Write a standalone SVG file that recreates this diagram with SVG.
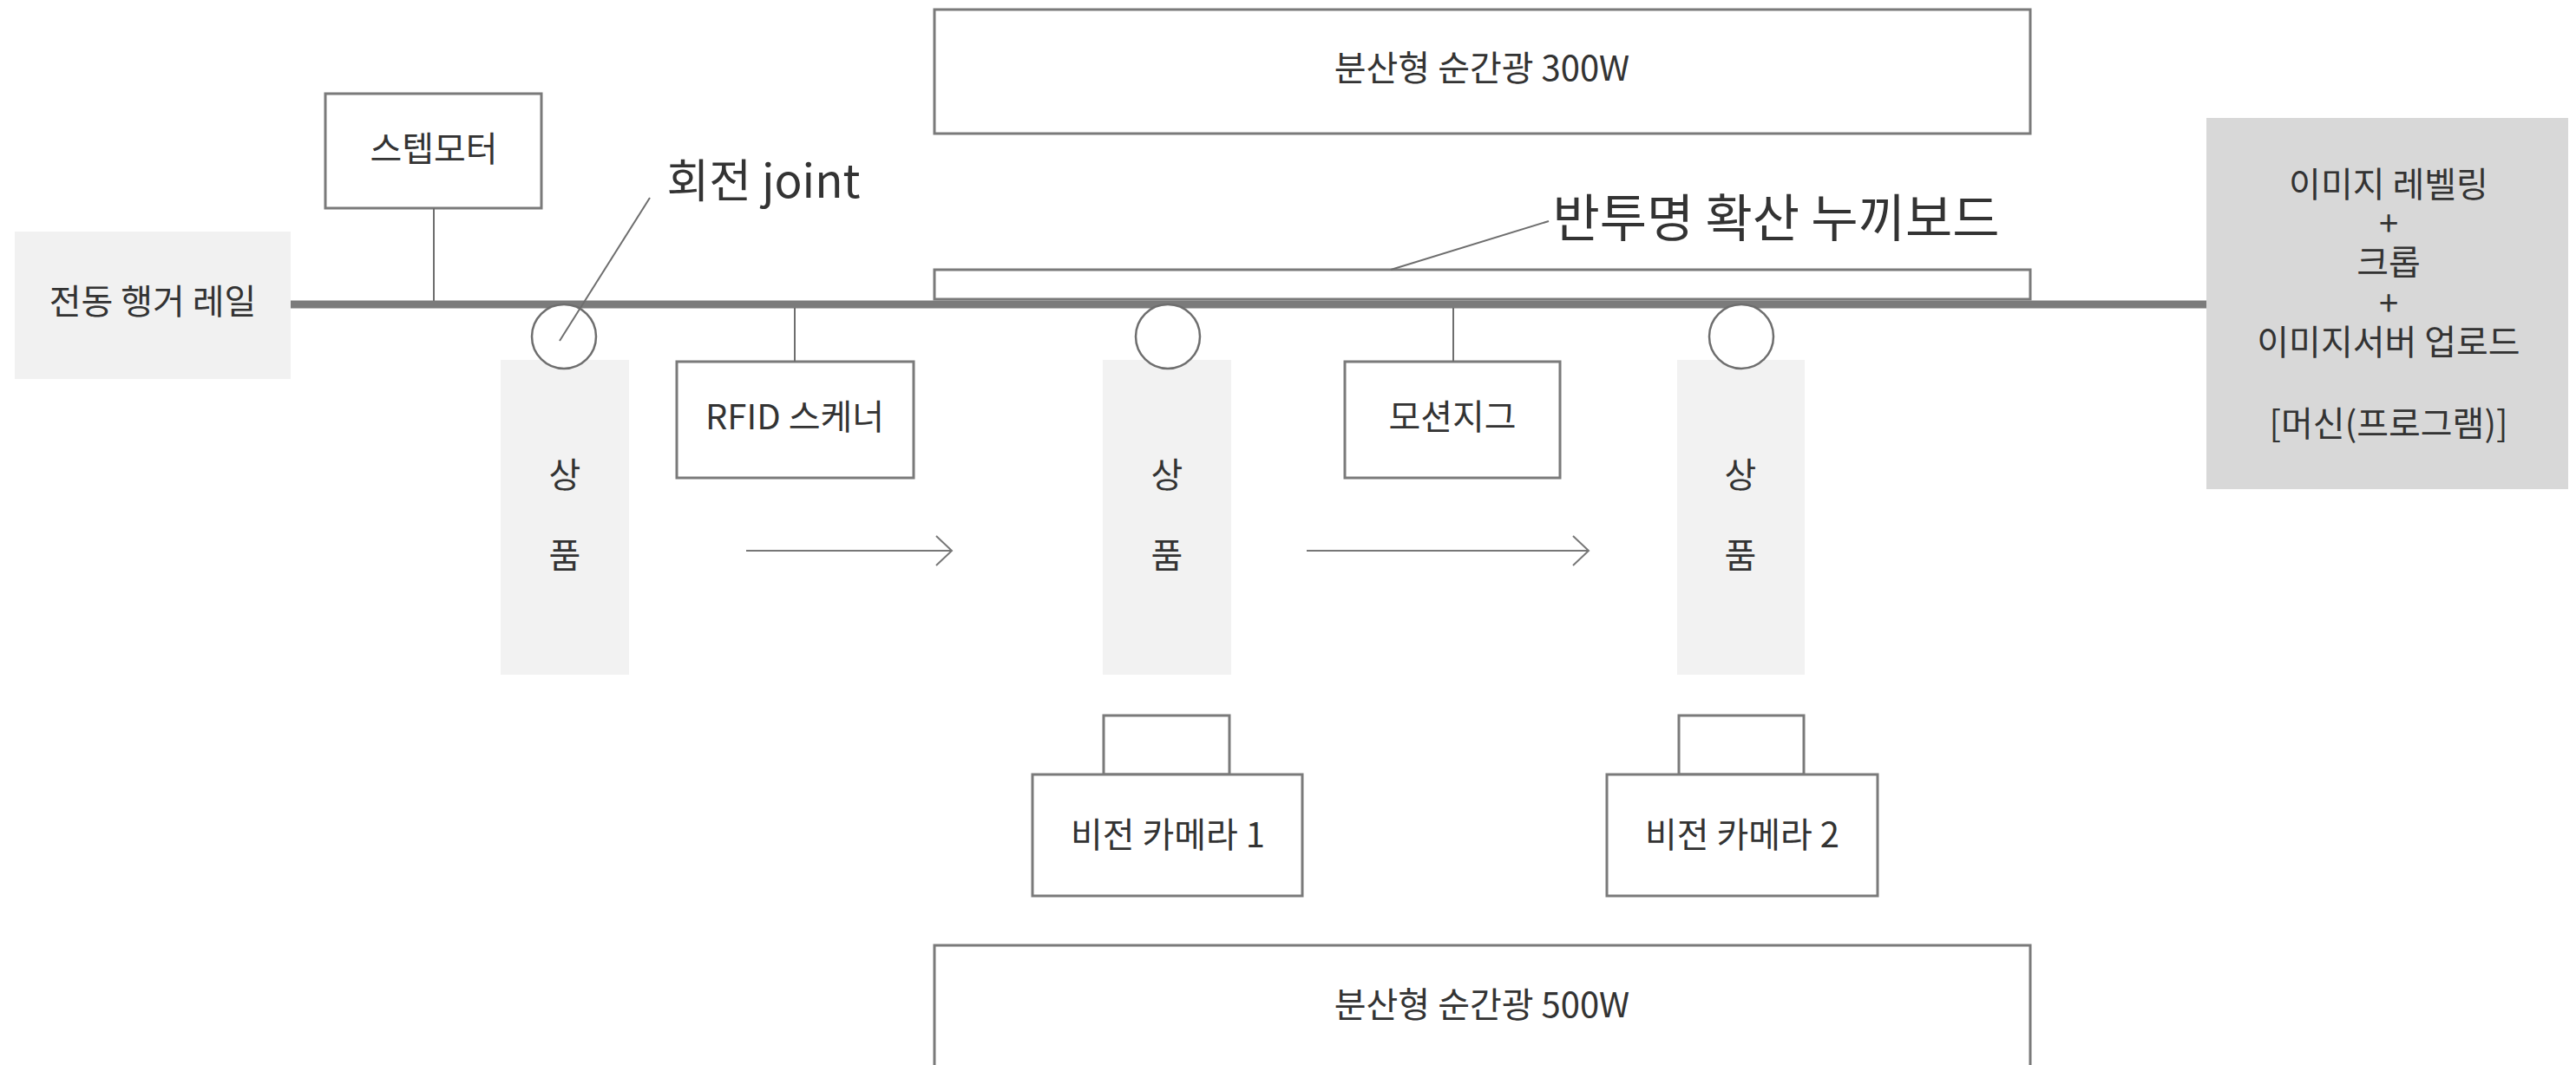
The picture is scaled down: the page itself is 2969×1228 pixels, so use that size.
<svg xmlns="http://www.w3.org/2000/svg" width="2969" height="1228" viewBox="0 0 2969 1228">
<style>
text{font-family:"Noto Sans CJK KR","Noto Sans",sans-serif;fill:#333;font-size:40px;text-anchor:middle}
.big{font-size:53px}
.big2{font-size:59px}
.box{fill:#fff;stroke:#7a7a7a;stroke-width:3}
.prod{fill:#f2f2f2}
.joint{fill:#fff;stroke:#6e6e6e;stroke-width:2.5}
.thin{stroke:#6e6e6e;stroke-width:2;fill:none}
.arr{stroke:#777;stroke-width:2;fill:none}
</style>
<rect width="2969" height="1228" fill="#fff"/>
<g id="light300"><rect class="box" x="1077" y="11" width="1263" height="143"/><text x="1708" y="93">분산형 순간광 300W</text></g>
<g id="board"><rect class="box" x="1077" y="311" width="1263" height="34"/></g>
<g id="rail-label"><rect x="17" y="267" width="318" height="170" fill="#f1f1f1"/><text x="176" y="362">전동 행거 레일</text></g>
<g id="rail"><line x1="335" y1="351" x2="2543" y2="351" stroke="#7b7b7b" stroke-width="9"/></g>
<g id="stepmotor"><rect class="box" x="375" y="108" width="249" height="132"/><text x="500" y="186">스텝모터</text></g>
<g id="joint-label"><text class="big" x="880" y="228">회전 joint</text></g>
<g id="board-label"><text class="big2" x="2047" y="273">반투명 확산 누끼보드</text></g>
<g id="product1"><rect class="prod" x="577" y="415" width="148" height="363"/><text x="651" y="562">상</text><text x="651" y="655">품</text></g>
<g id="product2"><rect class="prod" x="1271" y="415" width="148" height="363"/><text x="1345" y="562">상</text><text x="1345" y="655">품</text></g>
<g id="product3"><rect class="prod" x="1933" y="415" width="147" height="363"/><text x="2006" y="562">상</text><text x="2006" y="655">품</text></g>
<g id="joint1"><circle class="joint" cx="650" cy="388" r="37"/></g>
<g id="joint2"><circle class="joint" cx="1346" cy="388" r="37"/></g>
<g id="joint3"><circle class="joint" cx="2007" cy="388" r="37"/></g>
<g id="rfid"><rect class="box" x="780" y="417" width="273" height="134"/><text x="916" y="495">RFID 스케너</text></g>
<g id="motionjig"><rect class="box" x="1550" y="417" width="248" height="134"/><text x="1674" y="495">모션지그</text></g>
<g id="camera1"><rect class="box" x="1272" y="825" width="145" height="68"/><rect class="box" x="1190" y="893" width="311" height="140"/><text x="1346" y="977">비전 카메라 1</text></g>
<g id="camera2"><rect class="box" x="1935" y="825" width="144" height="68"/><rect class="box" x="1852" y="893" width="312" height="140"/><text x="2008" y="977">비전 카메라 2</text></g>
<g id="light500"><rect class="box" x="1077" y="1090" width="1263" height="150"/><text x="1708" y="1173">분산형 순간광 500W</text></g>
<g id="machine"><rect x="2543" y="136" width="417" height="428" fill="#d8d8d8"/>
<text x="2753" y="227">이미지 레벨링</text>
<text x="2753" y="272">+</text>
<text x="2753" y="317">크롭</text>
<text x="2753" y="364">+</text>
<text x="2753" y="409">이미지서버 업로드</text>
<text x="2753" y="503">[머신(프로그램)]</text>
</g>
<g id="connectors">
<line class="thin" x1="500" y1="240" x2="500" y2="347"/>
<line class="thin" x1="916" y1="355" x2="916" y2="417"/>
<line class="thin" x1="1675" y1="355" x2="1675" y2="417"/>
<line class="thin" x1="749" y1="228" x2="645" y2="393"/>
<line class="thin" x1="1785" y1="255" x2="1603" y2="311"/>
<g class="arr">
<line x1="860" y1="635" x2="1097" y2="635"/><polyline points="1079,618 1097,635 1079,652"/>
<line x1="1506" y1="635" x2="1831" y2="635"/><polyline points="1813,618 1831,635 1813,652"/>
</g>
</g>
</svg>
